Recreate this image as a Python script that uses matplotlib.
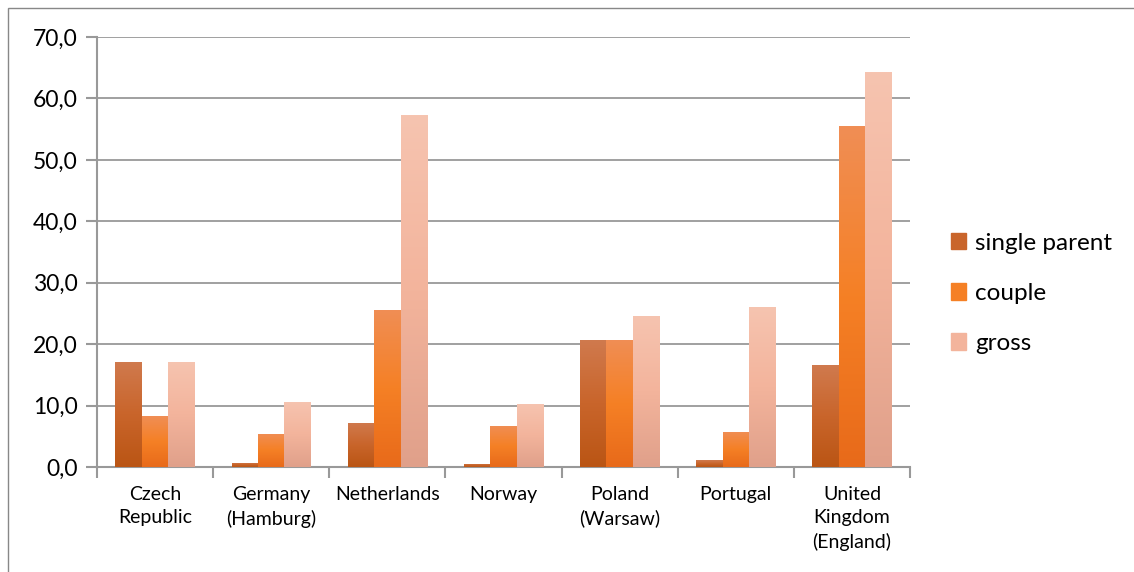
import numpy as np
import matplotlib
matplotlib.use("Agg")
from matplotlib import pyplot as plt
from matplotlib.colors import LinearSegmentedColormap
from matplotlib.patches import Rectangle

plt.rcParams['font.family'] = ['Lato', 'DejaVu Sans']

# Data
countries = ['Czech\nRepublic', 'Germany\n(Hamburg)', 'Netherlands', 'Norway',
             'Poland\n(Warsaw)', 'Portugal', 'United\nKingdom\n(England)']
single_parent = [17.1, 0.7, 7.2, 0.5, 20.7, 1.1, 16.6]
couple = [8.3, 5.4, 25.6, 6.7, 20.7, 5.7, 55.5]
gross = [17.1, 10.6, 57.3, 10.3, 24.6, 26.0, 64.3]
series_names = ['single parent', 'couple', 'gross']
yticks = np.arange(0, 71, 10)

# gradient colours (top, middle, bottom) for each series
gradients = [
    ['#D07A4E', '#C9652B', '#BA5514'],
    ['#F08E55', '#F58025', '#E86A1A'],
    ['#F6C4B0', '#F3B49C', '#E0A08A'],
]

fig = plt.figure(figsize=(11.34, 5.72), dpi=100)
ax = fig.add_axes([0.0855, 0.1836, 0.7170, 0.7517])

x = np.arange(len(countries))
width = 0.227
grad = np.linspace(1, 0, 256).reshape(-1, 1)

for i, (vals, cols) in enumerate(zip([single_parent, couple, gross], gradients)):
    cmap = LinearSegmentedColormap.from_list('g%d' % i, cols[::-1])
    bars = ax.bar(x + (i - 1) * width, vals, width, color=cols[1],
                  label=series_names[i], zorder=2, linewidth=0)
    for b in bars:
        bx, bw, bh = b.get_x(), b.get_width(), b.get_height()
        im = ax.imshow(grad, extent=[bx, bx + bw, 0, bh], aspect='auto',
                       cmap=cmap, vmin=0, vmax=1, zorder=3, interpolation='bilinear')
        im.set_clip_path(b)

ax.set_xlim(-0.5, len(countries) - 0.5)
ax.set_ylim(0, 70)
ax.set_yticks(yticks)
ax.set_yticklabels([('%.1f' % v).replace('.', ',') for v in yticks], fontsize=16.5)

ax.set_xticks(x)
ax.set_xticklabels(countries, fontsize=14, linespacing=1.42)
ax.set_xticks(np.arange(-0.5, len(countries)), minor=True)
ax.tick_params(axis='x', which='major', length=0, pad=14)
ax.tick_params(axis='x', which='minor', length=8, color='#999999', width=1.5)
ax.tick_params(axis='y', length=8, color='#999999', width=1.5, pad=6)

ax.grid(axis='y', color='#999999', linewidth=1.3)
ax.set_axisbelow(True)
for s in ['top', 'right']:
    ax.spines[s].set_visible(False)
for s in ['left', 'bottom']:
    ax.spines[s].set_color('#999999')
    ax.spines[s].set_linewidth(1.5)

handles = [Rectangle((0, 0), 1, 1, color=c[1]) for c in gradients]
fig.legend(handles, series_names, loc='center left', bbox_to_anchor=(0.819, 0.487),
           frameon=False, fontsize=17.5, handlelength=0.65, handleheight=0.65,
           handletextpad=0.35, labelspacing=1.2)

# outer chart border
fig.add_artist(Rectangle((8 / 1134, -0.1), 1.1, 1 - 8 / 572 + 0.1, transform=fig.transFigure,
                         fill=False, edgecolor='#888888', linewidth=1))

fig.savefig('out.png', dpi=100)
